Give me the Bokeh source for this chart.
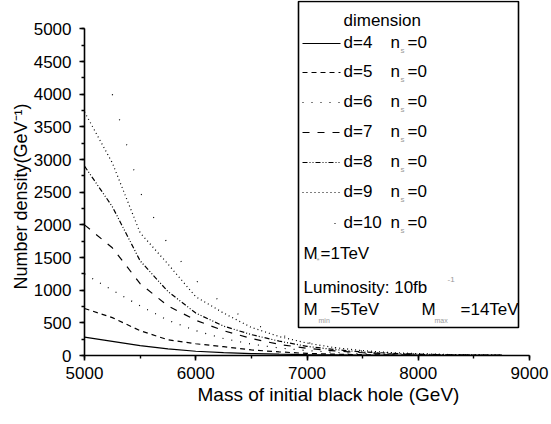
from bokeh.embed import file_html
from bokeh.models import (Arrow, BasicTickFormatter, BoxAnnotation, Label,
                          Range1d, SingleIntervalTicker, Title)
from bokeh.plotting import figure
from bokeh.resources import INLINE

# Initial black-hole mass (GeV)
mass = [5000, 5250, 5500, 5750, 6000, 6250, 6500, 6750,
        7000, 7250, 7500, 7750, 8000, 8250, 8500, 8750]

# Number density (GeV^-1) for each number of dimensions d, n_s = 0
d4 = [280, 215, 150, 100, 65, 45, 30, 20, 14, 10, 7, 5, 3, 2, 1, 1]
d5 = [720, 580, 380, 240, 180, 135, 85, 55, 32, 20, 12, 8, 5, 3, 2, 1]
d6 = [1250, 1000, 760, 540, 380, 260, 175, 115, 75, 48, 30, 18, 11, 6, 4, 2]
d7 = [2000, 1650, 1100, 760, 540, 380, 260, 170, 110, 70, 42, 25, 15, 9, 5, 3]
d8 = [2900, 2280, 1450, 980, 650, 450, 320, 220, 140, 90, 55, 35, 20, 12, 7, 4]
d9 = [3730, 2950, 1880, 1400, 900, 650, 430, 290, 190, 120, 75, 45, 28, 16, 10, 5]
mass_d10 = mass[1:]
d10 = [4000, 2500, 1700, 1150, 780, 500, 320, 200, 120, 70, 40, 24, 14, 8, 4]

dims = ["d=4", "d=5", "d=6", "d=7", "d=8", "d=9", "d=10"]
x_ticks_step = 1000
y_ticks_step = 500

FONT = "Liberation Sans"
W, H = 551, 424
LEFT, RIGHT, TOP, BOTTOM = 84, 22, 0, 69
FRAME_H = H - TOP - BOTTOM

p = figure(width=W, height=H, output_backend="svg", toolbar_location=None,
           x_range=Range1d(5000, 9000), y_range=Range1d(0, 5436),
           min_border_left=LEFT, min_border_right=RIGHT,
           min_border_top=TOP, min_border_bottom=BOTTOM)
p.background_fill_color = "white"
p.border_fill_color = "white"
p.outline_line_color = None
p.grid.visible = False

for ax in (p.xaxis[0], p.yaxis[0]):
    ax.axis_line_width = 1.6
    ax.major_tick_line_width = 1.6
    ax.minor_tick_line_width = 1.4
    ax.major_tick_in = 0
    ax.major_tick_out = 5
    ax.minor_tick_in = 0
    ax.minor_tick_out = 3
    ax.major_label_text_font = FONT
    ax.major_label_text_font_size = "17px"
    ax.major_label_text_color = "black"
    ax.formatter = BasicTickFormatter(use_scientific=False)

p.xaxis.bounds = (5000, 9000)
p.yaxis.bounds = (0, 5000)
p.xaxis.ticker = SingleIntervalTicker(interval=x_ticks_step, num_minor_ticks=2)
p.yaxis.ticker = SingleIntervalTicker(interval=y_ticks_step, num_minor_ticks=2)
p.xaxis.major_label_standoff = 6
p.yaxis.major_label_standoff = 8

# Axis titles, placed as side-panel titles so they can be offset along the axis
p.add_layout(Title(text="Mass of initial black hole (GeV)", align="left",
                   offset=113, standoff=0, text_font=FONT,
                   text_font_size="19px", text_font_style="normal",
                   text_color="black"), "below")
p.add_layout(Title(text="Number density(GeV\u207b\u00b9)", align="left",
                   offset=66, standoff=0, text_font=FONT,
                   text_font_size="18px", text_font_style="normal",
                   text_color="black"), "left")

# Curves, one dash style per dimension
series = [(mass, d4, "solid"), (mass, d5, "5 4"), (mass, d6, "1 8"),
          (mass, d7, "7 8"), (mass, d8, "5 2 1 2 1 2"), (mass, d9, "1 3"),
          (mass_d10, d10, "1 25")]
for xs, ys, dash in series:
    p.line(xs, ys, line_color="black", line_width=1.2, line_dash=dash)


def sx(px):
    return px - LEFT


def sy(py):
    return FRAME_H - (py - TOP)


def txt(s, px, py, size="17px", color="black", align="left"):
    p.add_layout(Label(x=sx(px), y=sy(py), x_units="screen", y_units="screen",
                       text=s, text_font=FONT, text_font_size=size,
                       text_color=color, text_align=align,
                       text_baseline="middle"))


# Legend panel
p.add_layout(BoxAnnotation(left=sx(298), right=sx(518), top=sy(1), bottom=sy(327),
                           left_units="screen", right_units="screen",
                           top_units="screen", bottom_units="screen",
                           fill_color="white", fill_alpha=1.0,
                           line_color="black", line_alpha=1.0, line_width=1.6))

txt("dimension", 343, 20)
row_y = [42, 71, 101, 131, 161, 191, 222]
sample_start = [302, 302, 302, 302, 302, 302, 334]
for (xs, ys, dash), label, ry, s0 in zip(series, dims, row_y, sample_start):
    p.add_layout(Arrow(end=None, x_start=sx(s0), y_start=sy(ry + 1),
                       x_end=sx(340), y_end=sy(ry + 1),
                       start_units="screen", end_units="screen",
                       line_color="black", line_width=1.2, line_dash=dash))
    txt(label, 343, ry)
    txt("n", 390, ry)
    txt("s", 400, ry + 8, size="8px", color="#999999")
    txt("=0", 407, ry)

txt("M", 303, 253)
txt("*", 316, 260, size="8px", color="#999999")
txt("=1TeV", 320, 253)
txt("Luminosity: 10fb", 303, 287)
txt("-1", 447, 279, size="8px", color="#999999")
txt("M", 303, 309)
txt("min", 318, 320, size="7px", color="#999999")
txt("=5TeV", 330, 309)
txt("M", 421, 309)
txt("max", 434, 320, size="7px", color="#999999")
txt("=14TeV", 460, 309)

open("out.html", "w").write(file_html(p, INLINE))
